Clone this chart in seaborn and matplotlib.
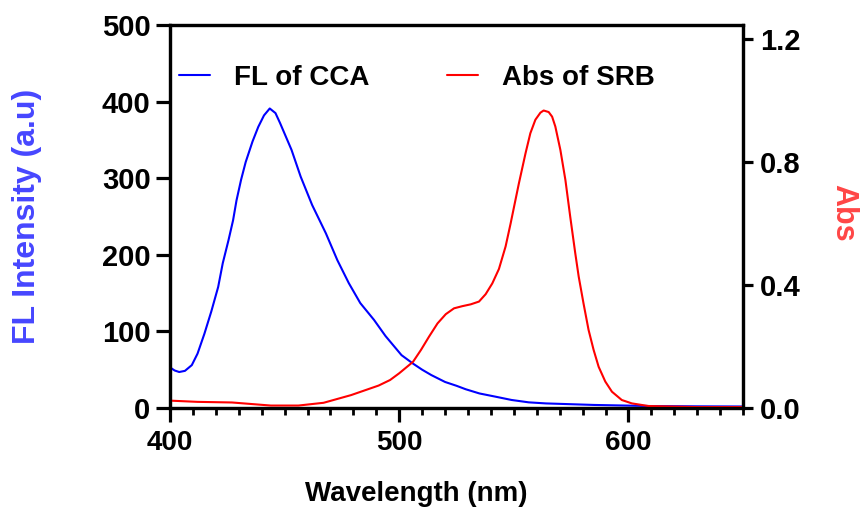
import matplotlib
matplotlib.use("Agg")
import matplotlib.pyplot as plt
import seaborn as sns
import pandas as pd
from matplotlib.ticker import MultipleLocator, FixedLocator

# ---- data ----
wl_fl = [400, 402, 404, 406.5, 409.5, 412, 415, 418, 421, 423, 425.5, 427.5,
         429, 431, 433, 436, 438.5, 441, 443.5, 446, 448, 453, 457, 462, 468,
         473, 478, 483, 489, 494, 501, 506, 510, 514, 520, 525, 529, 535, 542,
         549, 556.5, 564, 585, 609, 630, 650]
fl_cca = [53, 49, 47, 48.5, 56, 71, 97, 126, 158, 189, 219, 245,
          271, 298, 321, 348, 367, 382, 391, 385, 372, 337, 302, 265, 228,
          193, 163, 137, 115, 94, 69, 58, 50, 43, 34, 29, 24.5, 19, 14.8,
          10.5, 7.4, 6, 4, 2.6, 2.2, 2]

wl_abs = [400, 412, 427, 444, 456, 467, 479, 491, 496, 500, 506, 509.5, 513,
          516.7, 520.3, 523.9, 527.5, 531.2, 534.8, 537.7, 540.6, 543.5, 546.4,
          548.6, 550.7, 552.2, 555.1, 557.2, 559.4, 561.6, 563, 565.2, 566.7,
          568.1, 570.3, 572.5, 574.6, 576.8, 578.3, 580.4, 582.6, 584.8, 587,
          589.9, 592.8, 597.1, 601.5, 608.7, 630, 650]
abs_srb = [0.024, 0.020, 0.018, 0.008, 0.008, 0.017, 0.042, 0.073, 0.091, 0.113,
           0.150, 0.189, 0.232, 0.275, 0.305, 0.324, 0.331, 0.337, 0.346, 0.370,
           0.405, 0.452, 0.525, 0.600, 0.676, 0.730, 0.828, 0.893, 0.937, 0.960,
           0.967, 0.962, 0.947, 0.915, 0.839, 0.741, 0.622, 0.503, 0.427, 0.340,
           0.254, 0.189, 0.134, 0.086, 0.053, 0.026, 0.015, 0.0065, 0.003, 0.003]

x_ticks = [400, 500, 600]
y_left_ticks = [0, 100, 200, 300, 400, 500]
y_right_ticks = [0.0, 0.4, 0.8, 1.2]

df_fl = pd.DataFrame({"Wavelength": wl_fl, "FL": fl_cca})
df_abs = pd.DataFrame({"Wavelength": wl_abs, "Abs": abs_srb})

sns.set_theme(style="ticks")
plt.rcParams["font.family"] = ["Liberation Sans", "DejaVu Sans"]
plt.rcParams["font.weight"] = "bold"
plt.rcParams["text.color"] = "black"
plt.rcParams["xtick.color"] = "black"
plt.rcParams["ytick.color"] = "black"
plt.rcParams["axes.labelcolor"] = "black"

fig = plt.figure(figsize=(8.64, 5.14), dpi=100)
ax = fig.add_axes([0.1968, 0.2062, 0.6632, 0.7452])
ax2 = ax.twinx()

sns.lineplot(data=df_fl, x="Wavelength", y="FL", ax=ax, color="#0000FF",
             linewidth=1.5, label="FL of CCA", legend=False)
sns.lineplot(data=df_abs, x="Wavelength", y="Abs", ax=ax2, color="#FF0000",
             linewidth=1.5, label="Abs of SRB", legend=False)

ax.set_xlim(400, 650)
ax.set_ylim(0, 500)
ax2.set_ylim(0, 1.245)

ax.xaxis.set_major_locator(FixedLocator(x_ticks))
ax.xaxis.set_minor_locator(MultipleLocator(10))
ax.yaxis.set_major_locator(FixedLocator(y_left_ticks))
ax2.yaxis.set_major_locator(FixedLocator(y_right_ticks))
ax2.set_yticklabels([f"{v:.1f}" for v in y_right_ticks])

for a in (ax, ax2):
    for s in a.spines.values():
        s.set_linewidth(2.3)
        s.set_color("black")
        s.set_visible(True)

ax.tick_params(axis="x", which="major", length=10, width=2.3, pad=6,
               labelsize=20, direction="out", colors="black")
ax.tick_params(axis="x", which="minor", length=5, width=2.0, direction="out",
               colors="black")
ax.tick_params(axis="y", which="major", length=10, width=2.3, pad=4,
               labelsize=21, direction="out", colors="black")
ax2.tick_params(axis="y", which="major", length=7, width=2.3, pad=5,
                labelsize=21, direction="out", colors="black")
for lab in ax.get_xticklabels() + ax.get_yticklabels() + ax2.get_yticklabels():
    lab.set_fontweight("bold")
    lab.set_color("black")

ax.set_xlabel("Wavelength (nm)", fontsize=20, fontweight="bold", color="black")
ax.xaxis.set_label_coords(0.43, -0.19)
ax.set_ylabel("FL Intensity (a.u)", fontsize=23, fontweight="bold", color="#4646FF")
ax.yaxis.set_label_coords(-0.223, 0.5)
ax2.set_ylabel("Abs", fontsize=22, fontweight="bold", color="#FF4646",
               rotation=270, va="bottom")
ax2.yaxis.set_label_coords(1.148, 0.51)

h1, l1 = ax.get_legend_handles_labels()
h2, l2 = ax2.get_legend_handles_labels()
leg = ax2.legend(h1 + h2, l1 + l2, loc="center left",
                 bbox_to_anchor=(-0.008, 0.862), ncol=2, frameon=False,
                 borderpad=0, handlelength=1.12, handletextpad=0.85,
                 columnspacing=2.8, prop={"size": 20, "weight": "bold"})
for t in leg.get_texts():
    t.set_color("black")

fig.savefig("out.png", dpi=100)
